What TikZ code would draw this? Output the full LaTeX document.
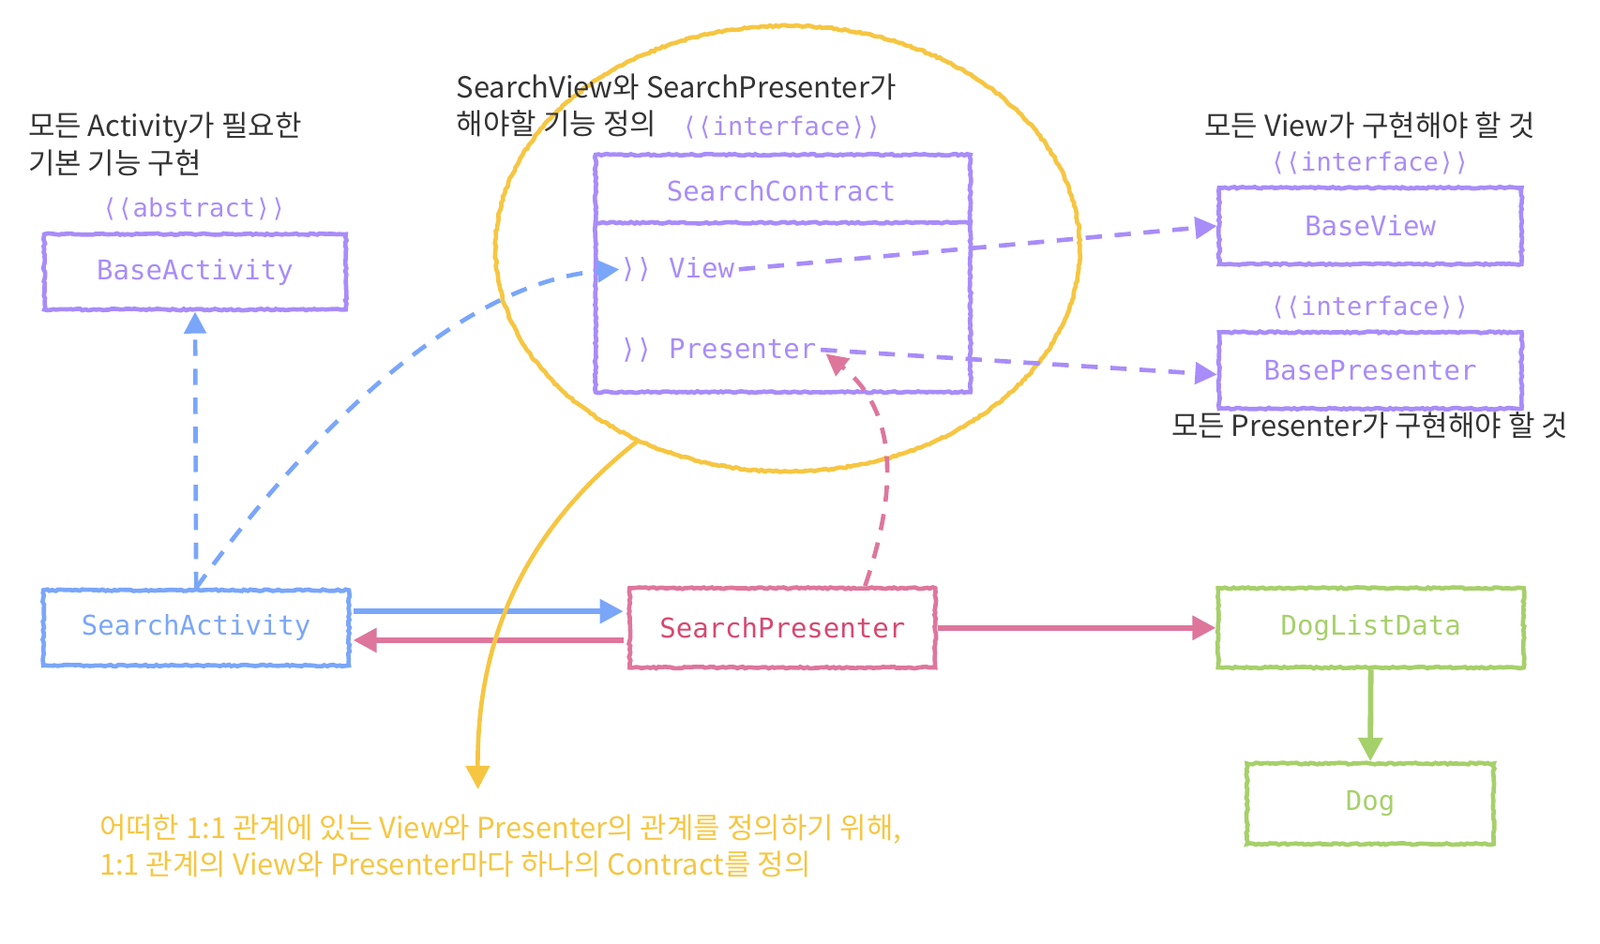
\documentclass[tikz,border=0pt]{standalone}
\usepackage{fontspec}
\setmainfont{Noto Sans CJK KR}
\newfontfamily\handfont{DejaVu Sans Mono}
\usetikzlibrary{arrows.meta, decorations.pathmorphing, shapes.geometric, calc}

\definecolor{cpurple}{RGB}{168,140,250}
\definecolor{cblue}{RGB}{122,166,250}
\definecolor{cpink}{RGB}{222,118,156}
\definecolor{cpinktext}{RGB}{214,72,112}
\definecolor{cgreen}{RGB}{166,208,106}
\definecolor{cyellow}{RGB}{246,198,66}
\definecolor{cdark}{RGB}{51,51,51}

\def\px{0.02cm}

\tikzset{
	rough/.style = {decorate, decoration = {random steps, segment length = 1.6pt, amplitude = 0.45pt}},
	box/.style = {draw = #1, rough, line width = 2.4pt, rectangle, inner sep = 0pt, text = #1, font = \handfont\fontsize{15}{18}\selectfont},
	item/.style = {anchor = west, inner sep = 0pt, text = cpurple, font = \handfont\fontsize{15}{18}\selectfont},
	stereo/.style = {inner sep = 0pt, text = cpurple, font = \handfont\fontsize{14}{17}\selectfont},
	note/.style = {inner sep = 0pt, text = cdark, align = left, font = \fontsize{16}{20.4}\selectfont},
	link/.style = {line width = 2.4pt, dash pattern = on 9pt off 7pt, -{Triangle[length = 12pt, width = 12pt]}},
	flow/.style = {line width = 3pt, -{Triangle[length = 13pt, width = 13pt]}}
}

\begin{document}
\begin{tikzpicture}[x = \px, y = -\px]
	\useasboundingbox (0,0) rectangle (1550,914);
	
	% contract and its ring
	\node [draw = cyellow, ellipse, rough, line width = 2.4pt, minimum width = 566*\px, minimum height = 432*\px] (ring) at (763,241) {};
	\node [note, anchor = west] (noteCon) at (442,102) {SearchView와 SearchPresenter가\\해야할 기능 정의};
	\node [stereo] (stCon) at (757,124) {⟨⟨interface⟩⟩};
	\node [box = cpurple, minimum width = 363*\px, minimum height = 230*\px] (contract) at (758.5,265) {};
	\node [stereo, font = \handfont\fontsize{15}{18}\selectfont] (conTitle) at (757,185) {SearchContract};
	\draw [cpurple, rough, line width = 2.4pt] ($(contract.north west)+(0,68)$) -- ($(contract.north east)+(0,68)$);
	\node [item] (viewItem) at (600,261) {⟩⟩ View};
	\node [item] (presItem) at (600,339) {⟩⟩ Presenter};
	
	% base types
	\node [note, anchor = west] (noteAct) at (27,140) {모든 Activity가 필요한\\기본 기능 구현};
	\node [stereo] (stAct) at (188,203) {⟨⟨abstract⟩⟩};
	\node [box = cpurple, minimum width = 292*\px, minimum height = 73*\px] (baseAct) at (189,263.5) {BaseActivity};
	
	\node [note] (noteView) at (1327,122) {모든 View가 구현해야 할 것};
	\node [stereo] (stView) at (1327,158) {⟨⟨interface⟩⟩};
	\node [box = cpurple, minimum width = 293*\px, minimum height = 74*\px] (baseView) at (1327.5,219) {BaseView};
	
	\node [stereo] (stPres) at (1327,298) {⟨⟨interface⟩⟩};
	\node [box = cpurple, minimum width = 293*\px, minimum height = 74*\px] (basePres) at (1327.5,359) {BasePresenter};
	\node [note] (notePres) at (1327,412) {모든 Presenter가 구현해야 할 것};
	
	% concrete classes
	\node [box = cblue, minimum width = 296*\px, minimum height = 73*\px] (sAct) at (190,608.5) {SearchActivity};
	\node [box = cpink, text = cpinktext, minimum width = 296*\px, minimum height = 77*\px] (sPres) at (758,608.5) {SearchPresenter};
	\node [box = cgreen, minimum width = 296*\px, minimum height = 77*\px] (dogList) at (1328,608.5) {DogListData};
	\node [box = cgreen, minimum width = 239*\px, minimum height = 78*\px] (dog) at (1327.5,779) {Dog};
	
	\node [note, anchor = west, text = cyellow] (noteRing) at (96,820) {어떠한 1:1 관계에 있는 View와 Presenter의 관계를 정의하기 위해,\\1:1 관계의 View와 Presenter마다 하나의 Contract를 정의};
	
	\coordinate (presTip) at (800,343);
	\coordinate (ringTip) at (463,765);
	
	% connectors
	\begin{scope}[link]
	\draw [cblue] (sAct.north) -- (baseAct.south);
	\draw [cblue] (sAct.north) .. controls (290,430) and (440,275) .. (viewItem.west);
	\draw [cpurple] ($(viewItem.east)+(4,0)$) -- (baseView.west);
	\draw [cpurple] ($(presItem.east)+(4,0)$) -- ($(basePres.west)+(0,4)$);
	\draw [cpink] ($(sPres.north)+(80,0)$) .. controls (868,480) and (872,400) .. (presTip);
	\end{scope}
	
	\begin{scope}[flow]
	\draw [cblue] ($(sAct.east)+(2,-16)$) -- ($(sPres.west)+(-4,-16)$);
	\draw [cpink] ($(sPres.west)+(-4,12)$) -- ($(sAct.east)+(2,12)$);
	\draw [cpink] (sPres.east) -- (dogList.west);
	\draw [cgreen] (dogList.south) -- (dog.north);
	\draw [cyellow, line width = 2.4pt] (ring.232) .. controls (500,520) and (462,630) .. (ringTip);
	\end{scope}
\end{tikzpicture}
\end{document}
